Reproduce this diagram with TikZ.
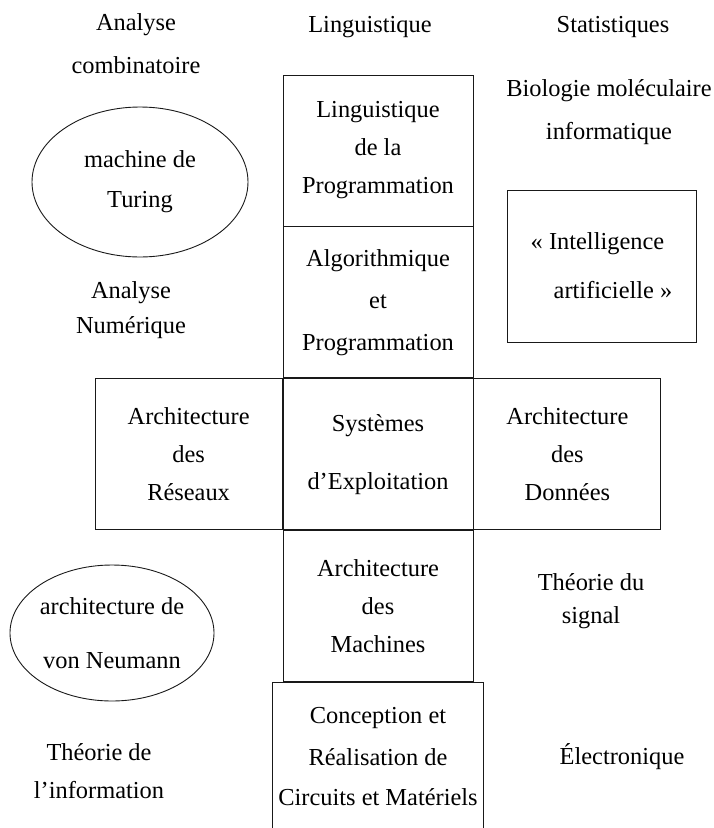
\documentclass[tikz,border=0pt]{standalone}
\usepackage{fontspec}
\setmainfont{Liberation Serif}
\usepackage{xcolor}
\usepackage{tikz}
\usetikzlibrary{shapes.geometric, positioning}
\definecolor{mydark}{RGB}{25,25,25}
\newcommand{\labfont}{\fontsize{24.4}{38}\selectfont}
\tikzset{
  field/.style={rectangle, draw=mydark, line width=0.9pt, inner sep=0pt,
    align=center, minimum width=190pt, minimum height=151pt},
  sidefield/.style={field, minimum width=187pt},
  openfield/.style={rectangle, inner sep=0pt, align=center,
    minimum width=210pt, minimum height=148pt},
  model/.style={ellipse, draw=mydark, line width=0.9pt, inner sep=0pt, align=center},
  topic/.style={align=center, inner sep=0pt},
  line/.style={line width=0.9pt, color=mydark}
}

\begin{document}
\begin{tikzpicture}[x=1pt, y=-1pt, every node/.style={font=\labfont}]
  \useasboundingbox (0,0) rectangle (714,828);
  % central column
  \node[field] (prog) at (378,150.5) {Linguistique\\de la\\Programmation};
  \node[field, below=0pt of prog] (algo) {Algorithmique\\[4pt]et\\[4pt]Programmation};
  \node[field, below=0pt of algo] (sys) {Systèmes\\[20pt]d'Exploitation};
  \node[sidefield, left=0pt of sys] (res) {Architecture\\des\\Réseaux};
  \node[sidefield, right=0pt of sys] (don) {Architecture\\des\\Données};
  \node[field, below=0pt of sys] (mach) {Architecture\\des\\Machines};
  \node[openfield, below=0pt of mach] (circ) {Conception et\\[4pt]Réalisation de\\[2pt]Circuits et Matériels};
  \draw[line] (circ.south west) -- (circ.north west) -- (circ.north east) -- (circ.south east);

  \node[field, minimum width=189pt, minimum height=152pt, align=left] (ia) at (601.5,266)
    {« Intelligence\\[11pt]\hspace*{23pt}artificielle »};

  % models
  \node[model, minimum width=216pt, minimum height=150pt] (turing) at (140,182) {machine de\\[2pt]Turing};
  \node[model, minimum width=202pt, minimum height=136pt] (neumann) at (112,633) {architecture de\\[16pt]von Neumann};

  % neighbouring fields
  \node[topic] (comb) at (136,43.5) {Analyse\\[5pt]combinatoire};
  \node[topic] (ling) at (370,27) {Linguistique};
  \node[topic] (stat) at (613,27) {Statistiques};
  \node[topic] (bio) at (609,112) {Biologie moléculaire\\[5pt]informatique};
  \node[topic] (num) at (131,310) {Analyse\\[-3pt]Numérique};
  \node[topic] (sig) at (591,601) {Théorie du\\[-5pt]signal};
  \node[topic] (elec) at (622,757) {Électronique};
  \node[topic] (info) at (99,771) {Théorie de\\l'information};
\end{tikzpicture}
\end{document}
